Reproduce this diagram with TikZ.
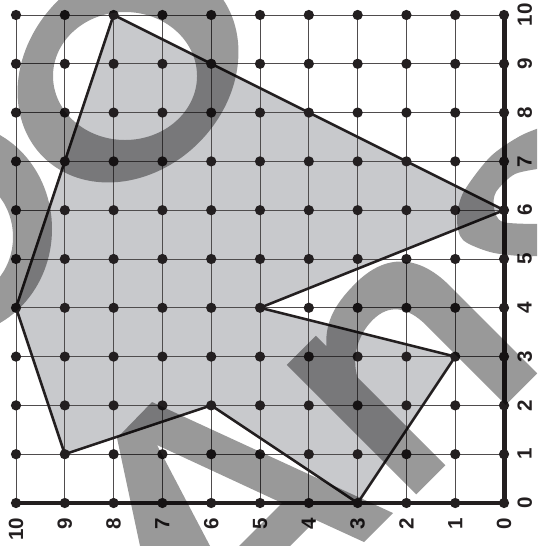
\documentclass[tikz,border=0pt]{standalone}
\usepackage{fontspec}
\setmainfont{Liberation Sans}
\definecolor{polyfill}{RGB}{200,201,204}
\definecolor{ink}{RGB}{35,31,32}
\tikzset{
  gridline/.style={line width=0.5pt, draw=ink!80},
  edge/.style={line width=1.5pt, draw=ink, line join=miter},
  axisline/.style={line width=2.9pt, draw=ink},
  dot/.style={fill=ink},
  lab/.style={font=\fontsize{12}{14}\selectfont\bfseries, text=ink, inner sep=0pt, rotate=90},
  wm/.style={fill=black, fill opacity=0.4},
}
\begin{document}
\begin{tikzpicture}
\useasboundingbox (-0.328,-0.881) rectangle (10.676,10.307);
% polygon vertices
\coordinate (P1) at (2,10);
\coordinate (P2) at (10,6);
\coordinate (P3) at (5,4);
\coordinate (P4) at (9,3);
\coordinate (P5) at (7,0);
\coordinate (P6) at (4,2);
\coordinate (P7) at (1,1);
\coordinate (P8) at (0,4);
\fill[polyfill] (P1) -- (P2) -- (P3) -- (P4) -- (P5) -- (P6) -- (P7) -- (P8) -- cycle;
\draw[gridline] (0,0) grid (10,10);
\draw[edge] (P1) -- (P2) -- (P3) -- (P4) -- (P5) -- (P6) -- (P7) -- (P8) -- cycle;
% axes
\coordinate (xend) at (0,0);
\coordinate (origin) at (10,0);
\coordinate (yend) at (10,10);
\draw[axisline] (xend) -- (origin) -- (yend);
% dots
\foreach \i in {0,...,10}{
  \foreach \j in {0,...,10}{
    \fill[dot] (\i,\j) circle (0.105);
  }
}
% labels
\foreach \h in {0,...,10}{
  \pgfmathtruncatemacro{\xx}{10-\h}
  \node[lab, anchor=east] (bl\h) at (\xx,-0.293) {\h};
}
\foreach \v in {0,...,10}{
  \node[lab, anchor=north] (rl\v) at (10.27,\v) {\v};
}
% watermark
\begin{scope}
\clip (-0.328,-0.881) rectangle (10.676,10.307);
\begin{scope}[shift={(-0.328,10.307)}, x=0.020492cm, y=-0.020492cm]
  \fill[wm, even odd rule] (128,72) ellipse [x radius=120, y radius=100, rotate=45]
        (125,76) ellipse [x radius=72, y radius=64];
  \fill[wm, even odd rule] (-45,229) ellipse [x radius=97, y radius=106]
        (-45,237) ellipse [x radius=58, y radius=63];
  \fill[wm, even odd rule] (143,560) -- (117,438) -- (152,402) -- (393,513) -- (364,542)
        -- (316,520) -- (276,560) -- cycle
        (157,445) -- (282,503) -- (220,565) -- cycle;
  \fill[wm, even odd rule]
        plot[smooth] coordinates {(545,126) (520,136) (490,157) (463,193) (457,220) (463,240) (490,252) (520,256) (545,256)} -- cycle
        plot[smooth] coordinates {(545,168) (515,174) (496,192) (494,208) (503,222) (545,224)} -- cycle;
\end{scope}
\begin{scope}[shift={(5.8606,3.1143)}, x={(0.01449cm,0.01449cm)}, y={(0.01449cm,-0.01449cm)}]
  \fill[wm] (-20.5,-1) -- (20.5,-1) -- (20.5,14)
        .. controls (38,-6) and (60,-10) .. (86,-10)
        .. controls (128,-10) and (150.5,14) .. (150.5,58)
        -- (150.5,182) -- (106,182) -- (106,70)
        .. controls (106,42) and (94,28) .. (72,28)
        .. controls (50,28) and (30,40) .. (20.5,58)
        -- (20.5,182) -- (-20.5,182) -- cycle;
\end{scope}
\end{scope}
\end{tikzpicture}
\end{document}
